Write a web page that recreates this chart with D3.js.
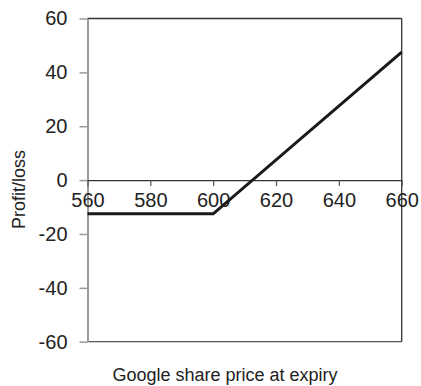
<!DOCTYPE html>
<html>
<head>
<meta charset="utf-8">
<script src="https://cdn.jsdelivr.net/npm/d3@7"></script>
<style>
  html, body { margin: 0; padding: 0; background: #fff; }
  svg { display: block; }
  text { font-family: "Liberation Sans", Arial, Helvetica, sans-serif; fill: #222; }
</style>
</head>
<body>
<svg id="chart" width="421" height="386"></svg>
<script>
// Long call payoff at expiry
const prices = [560, 600, 660];          // share price at expiry
const profit = [-12.5, -12.5, 47.5];     // profit/loss
const xTicks = [560, 580, 600, 620, 640, 660];
const yTicks = [-60, -40, -20, 0, 20, 40, 60];

const W = 421, H = 386;
const m = { left: 87.5, right: 19.3, top: 18.5, bottom: 44.3 };

const svg = d3.select("#chart");
const x = d3.scaleLinear().domain([560, 660]).range([m.left, W - m.right]);
const y = d3.scaleLinear().domain([-60, 60]).range([H - m.bottom, m.top]);
const plain = d => String(d);   // hyphen-minus labels

// frame: top, right and bottom edges
const frame = svg.append("g").attr("fill", "none");
frame.append("line")
  .attr("x1", x(560)).attr("x2", x(660)).attr("y1", y(60)).attr("y2", y(60))
  .attr("stroke", "#333").attr("stroke-width", 1.3);
frame.append("line")
  .attr("x1", x(660)).attr("x2", x(660)).attr("y1", y(60)).attr("y2", y(-60))
  .attr("stroke", "#333").attr("stroke-width", 1.3);
frame.append("line")
  .attr("x1", x(560)).attr("x2", x(660)).attr("y1", y(-60)).attr("y2", y(-60))
  .attr("stroke", "#555").attr("stroke-width", 1.3);

// y axis (grey)
const gy = svg.append("g")
  .attr("transform", `translate(${x(560)},0)`)
  .call(d3.axisLeft(y).tickValues(yTicks).tickFormat(plain)
    .tickSize(8).tickSizeOuter(0).tickPadding(12));
gy.select(".domain").attr("stroke", "#9a9a9a").attr("stroke-width", 2);
gy.selectAll(".tick line").attr("stroke", "#9a9a9a").attr("stroke-width", 1.5);
gy.selectAll(".tick text").style("font-size", "20px").attr("fill", "#222");

// x axis along zero
const gx = svg.append("g")
  .attr("transform", `translate(0,${y(0)})`)
  .call(d3.axisBottom(x).tickValues(xTicks).tickFormat(plain)
    .tickSize(6).tickSizeOuter(0).tickPadding(7));
gx.select(".domain").attr("stroke", "#333").attr("stroke-width", 1.3);
gx.selectAll(".tick line").attr("stroke", "#555").attr("stroke-width", 1.2);
gx.selectAll(".tick text").style("font-size", "20px").attr("fill", "#222");

// payoff line
const line = d3.line().x((d, i) => x(prices[i])).y(d => y(d));
svg.append("path")
  .datum(profit)
  .attr("d", line)
  .attr("fill", "none")
  .attr("stroke", "#1a1a1a")
  .attr("stroke-width", 3);

// axis titles
svg.append("text")
  .attr("x", 225).attr("y", 381)
  .attr("text-anchor", "middle")
  .style("font-size", "18px")
  .text("Google share price at expiry");

svg.append("text")
  .attr("transform", "translate(25,189.5) rotate(-90)")
  .attr("text-anchor", "middle")
  .style("font-size", "18px")
  .text("Profit/loss");
</script>
</body>
</html>
